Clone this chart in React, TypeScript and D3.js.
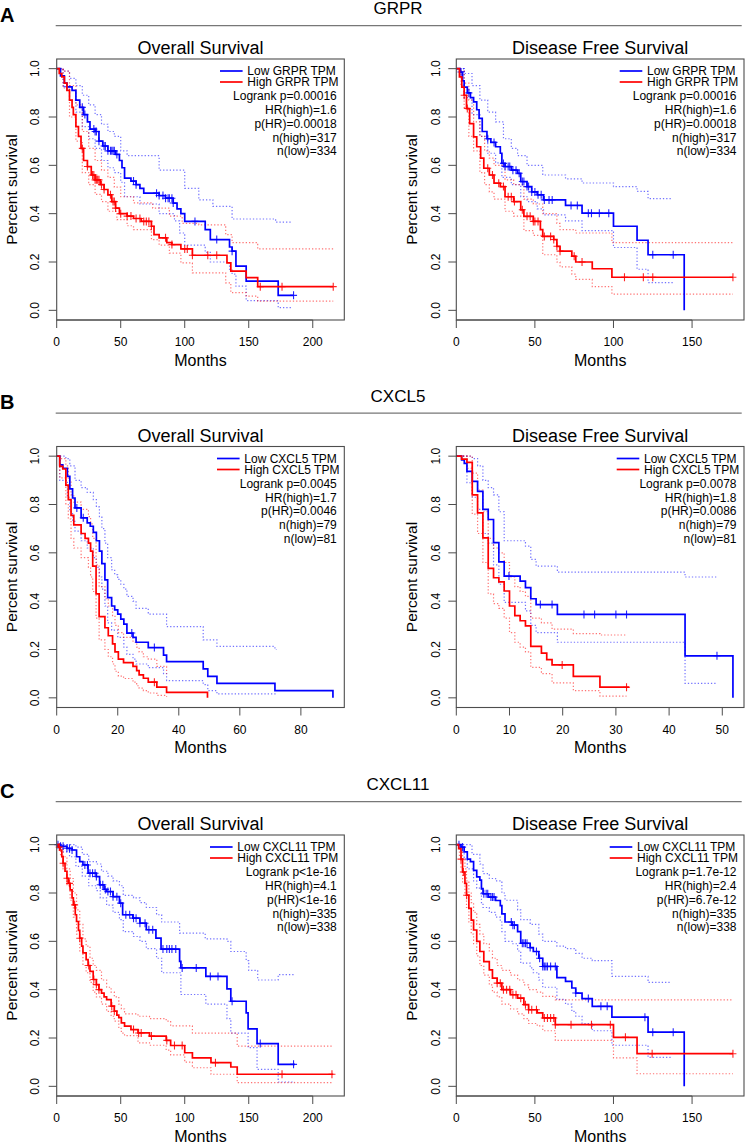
import React from "react";
import * as d3 from "d3";

type Pt = [number, number];

// ---------- Headers ----------
const panelLetters = ["A", "B", "C"];
const geneNames = ["GRPR", "CXCL5", "CXCL11"];
const plotTitles = ["Overall Survival", "Disease Free Survival"];
const yTicks = [0, 0.2, 0.4, 0.6, 0.8, 1.0];

// ---------- GRPR Overall Survival ----------
const grprOsLow: Pt[] = [[0,1],[3,0.97],[6,0.94],[8,0.925],[12,0.91],[15,0.87],[18,0.84],[21,0.81],[24,0.78],[26,0.75],[30,0.74],[33,0.70],[36,0.68],[40,0.66],[46,0.645],[49,0.62],[51,0.59],[53,0.547],[58,0.535],[62,0.52],[65,0.505],[68,0.485],[80,0.475],[85,0.464],[91,0.444],[94,0.42],[97,0.40],[100,0.368],[116,0.334],[120,0.293],[135,0.262],[137,0.245],[140,0.183],[148,0.121],[173,0.062],[185,0.062]];
const grprOsLowUp: Pt[] = [[0,1],[5,0.99],[10,0.96],[15,0.93],[20,0.89],[25,0.85],[30,0.81],[35,0.77],[40,0.74],[45,0.72],[50,0.66],[55,0.64],[80,0.58],[100,0.505],[111,0.457],[122,0.43],[137,0.378],[171,0.365],[184,0.365]];
const grprOsLowLo: Pt[] = [[0,1],[5,0.93],[10,0.87],[15,0.82],[20,0.76],[25,0.71],[30,0.67],[35,0.62],[40,0.59],[45,0.57],[50,0.53],[53,0.47],[65,0.44],[80,0.40],[92,0.37],[96,0.32],[100,0.27],[116,0.24],[120,0.20],[135,0.17],[137,0.15],[140,0.10],[148,0.04],[173,0.011],[184,0.011]];
const grprOsLowCens = [8,20,22,29,30,31,33,37,38,40,42,43,44,45,47,60,62,78,80,83,85,87,88,90,91,108,125,137,185];
const grprOsHigh: Pt[] = [[0,1],[2,0.98],[4,0.966],[6,0.94],[8,0.91],[10,0.87],[12,0.84],[13,0.81],[15,0.76],[17,0.72],[19,0.67],[21,0.62],[24,0.595],[27,0.56],[30,0.54],[34,0.52],[37,0.50],[40,0.478],[43,0.45],[46,0.423],[49,0.40],[55,0.39],[60,0.38],[66,0.368],[74,0.348],[76,0.313],[80,0.30],[86,0.28],[90,0.272],[97,0.254],[106,0.228],[133,0.196],[136,0.162],[148,0.135],[157,0.098],[216,0.098]];
const grprOsHighUp: Pt[] = [[0,1],[5,0.99],[10,0.93],[15,0.85],[20,0.74],[25,0.67],[30,0.62],[35,0.58],[40,0.55],[45,0.51],[50,0.47],[60,0.445],[75,0.423],[88,0.39],[98,0.36],[111,0.354],[132,0.313],[137,0.28],[157,0.254],[216,0.254]];
const grprOsHighLo: Pt[] = [[0,1],[5,0.92],[10,0.80],[15,0.70],[20,0.57],[25,0.52],[30,0.48],[35,0.45],[40,0.41],[47,0.375],[55,0.35],[60,0.334],[74,0.293],[80,0.27],[88,0.237],[97,0.196],[106,0.155],[132,0.114],[136,0.073],[148,0.059],[157,0.038],[216,0.038]];
const grprOsHighCens = [20,24,28,29,30,31,32,33,35,37,42,44,45,46,50,55,58,62,65,68,70,72,74,85,90,100,102,106,118,125,159,176,216];

// ---------- GRPR Disease Free Survival ----------
const grprDfsLow: Pt[] = [[0,1],[2.5,0.986],[4,0.95],[5,0.924],[7,0.90],[9,0.88],[11,0.863],[13,0.83],[14.5,0.794],[16.5,0.74],[19.5,0.71],[22,0.695],[25,0.677],[28,0.65],[29,0.608],[31,0.595],[35,0.58],[39,0.567],[41,0.533],[45,0.512],[48,0.49],[51.5,0.478],[55.5,0.457],[69.5,0.434],[80,0.402],[100,0.348],[115,0.29],[122,0.23],[145,0]];
const grprDfsLowUp: Pt[] = [[0,1],[5,0.98],[10,0.93],[15,0.87],[20,0.82],[25,0.78],[30,0.71],[35,0.67],[39,0.64],[45,0.60],[55,0.56],[69.5,0.544],[80,0.527],[100,0.512],[115,0.492],[122,0.462],[137,0.462]];
const grprDfsLowLo: Pt[] = [[0,1],[5,0.88],[10,0.81],[15,0.72],[20,0.65],[25,0.61],[29,0.55],[35,0.52],[41,0.47],[45,0.45],[51.5,0.42],[55.5,0.395],[69.5,0.37],[80,0.33],[100,0.26],[115,0.17],[122,0.115],[138,0.115]];
const grprDfsLowCens = [3,8,20,24,30,31,33,34,36,38,40,42,43,45,46,48,50,52,54,56,59,61,73,77,84,86,91,97,125,138];
const grprDfsHigh: Pt[] = [[0,1],[2,0.966],[3.5,0.924],[5,0.89],[6.5,0.835],[8.5,0.773],[11,0.718],[13,0.677],[15.5,0.63],[17.5,0.588],[21,0.56],[24,0.526],[28,0.512],[31,0.47],[36.5,0.45],[41,0.416],[43,0.389],[49,0.368],[53.5,0.334],[55,0.306],[62,0.293],[64,0.265],[66,0.245],[73.5,0.224],[76,0.20],[86.5,0.172],[99,0.137],[176,0.137]];
const grprDfsHighUp: Pt[] = [[0,1],[3,0.99],[5,0.94],[8,0.87],[11,0.78],[15,0.72],[18,0.66],[21,0.63],[24,0.60],[31,0.54],[36.5,0.52],[43,0.46],[49,0.44],[55,0.40],[64,0.36],[66,0.334],[76,0.32],[99,0.28],[176,0.28]];
const grprDfsHighLo: Pt[] = [[0,1],[3,0.93],[5,0.84],[8,0.72],[11,0.66],[15,0.57],[18,0.52],[21,0.49],[24,0.46],[31,0.41],[36.5,0.39],[43,0.33],[49,0.31],[55,0.23],[64,0.20],[66,0.18],[73.5,0.15],[76,0.128],[86.5,0.098],[99,0.067],[176,0.067]];
const grprDfsHighCens = [5,7,20,23,27,30,33,35,37,42,45,47,49,50,52,56,60,62,64,66,75,80,107,119,125,176];

// ---------- CXCL5 Overall Survival ----------
const cxcl5OsLow: Pt[] = [[0,1],[1,0.964],[2,0.95],[3.5,0.916],[4.3,0.865],[5.2,0.827],[6,0.786],[8,0.745],[10,0.724],[11,0.71],[12,0.685],[13,0.65],[14,0.607],[14.8,0.555],[15.8,0.488],[16.7,0.415],[18,0.38],[19,0.364],[20,0.346],[21,0.326],[22,0.305],[23,0.268],[25,0.25],[26,0.23],[30,0.208],[35,0.177],[36,0.15],[48,0.12],[49.5,0.089],[52.5,0.06],[71.5,0.03],[90.5,0]];
const cxcl5OsLowUp: Pt[] = [[0,1],[3,0.99],[4.3,0.96],[6,0.90],[8,0.87],[10,0.85],[12,0.82],[13,0.79],[14,0.75],[14.8,0.70],[15.8,0.64],[16.7,0.58],[18,0.53],[19,0.51],[20,0.49],[21,0.47],[22,0.45],[23,0.42],[25,0.40],[26,0.37],[30,0.346],[36,0.295],[48,0.24],[52.5,0.213],[71.5,0.20],[72,0.20]];
const cxcl5OsLowLo: Pt[] = [[0,1],[1,0.90],[3.5,0.83],[4.3,0.77],[5.2,0.73],[6,0.69],[8,0.65],[10,0.62],[12,0.58],[13,0.54],[14,0.50],[14.8,0.45],[15.8,0.38],[16.7,0.31],[18,0.28],[20,0.25],[22,0.21],[23,0.18],[25,0.16],[26,0.14],[30,0.125],[35,0.10],[36,0.071],[48,0.055],[49.5,0.03],[52.5,0.016],[72,0.016]];
const cxcl5OsLowCens = [6.6,8.7,24.6,32];
const cxcl5OsHigh: Pt[] = [[0,1],[1,0.958],[2,0.947],[3,0.88],[3.8,0.82],[4.7,0.755],[5.6,0.716],[8,0.68],[9.3,0.66],[10.4,0.64],[11.1,0.607],[11.8,0.545],[12.9,0.43],[13.9,0.336],[15.8,0.29],[16.9,0.257],[18.3,0.223],[19.1,0.19],[20.2,0.16],[21.9,0.146],[25,0.13],[26.2,0.113],[27,0.095],[28.4,0.081],[30,0.065],[32.8,0.044],[36,0.023],[49.4,0]];
const cxcl5OsHighUp: Pt[] = [[0,1],[1,0.99],[3,0.96],[3.8,0.90],[4.7,0.84],[5.6,0.81],[8,0.78],[10.4,0.75],[11.1,0.72],[11.8,0.66],[12.9,0.55],[13.9,0.46],[15.8,0.41],[16.9,0.38],[18.3,0.34],[19.1,0.30],[20.2,0.27],[21.9,0.25],[25,0.23],[26.2,0.21],[27,0.19],[28.4,0.17],[30,0.16],[32.8,0.13],[36,0.10]];
const cxcl5OsHighLo: Pt[] = [[0,1],[1,0.91],[3,0.80],[3.8,0.74],[4.7,0.66],[5.6,0.62],[8,0.58],[10.4,0.54],[11.1,0.50],[11.8,0.44],[12.9,0.33],[13.9,0.24],[15.8,0.20],[16.9,0.17],[18.3,0.14],[19.1,0.11],[20.2,0.09],[21.9,0.08],[25,0.065],[26.2,0.05],[27,0.04],[28.4,0.03],[30,0.02],[32.8,0.01],[36,0.005]];
const cxcl5OsHighCens = [32];

// ---------- CXCL5 Disease Free Survival ----------
const cxcl5DfsLow: Pt[] = [[0,1],[1,0.985],[1.5,0.97],[2,0.937],[3,0.896],[4,0.854],[5,0.78],[6,0.738],[7,0.642],[8,0.563],[9,0.504],[12,0.483],[13,0.456],[14,0.41],[15,0.386],[19,0.345],[43,0.174],[52,0]];
const cxcl5DfsLowUp: Pt[] = [[0,1],[3,0.99],[4,0.96],[5,0.90],[6,0.87],[7,0.84],[8,0.77],[9,0.65],[12,0.65],[13,0.628],[14,0.573],[15,0.545],[19,0.52],[43,0.50],[49,0.50]];
const cxcl5DfsLowLo: Pt[] = [[0,1],[2,0.89],[3,0.83],[4,0.78],[5,0.68],[6,0.64],[7,0.55],[8,0.47],[9,0.395],[12,0.395],[13,0.36],[14,0.30],[15,0.27],[19,0.23],[43,0.06],[49,0.06]];
const cxcl5DfsLowCens = [9.9,15.8,18,24,26,30,32,49];
const cxcl5DfsHigh: Pt[] = [[0,1],[1,0.988],[2,0.974],[3,0.84],[4,0.765],[5,0.662],[6,0.536],[7,0.497],[8,0.48],[9,0.442],[10,0.38],[11,0.34],[12,0.319],[13,0.298],[14,0.213],[16,0.185],[17,0.158],[18,0.136],[22,0.089],[27,0.044],[32.5,0.044]];
const cxcl5DfsHighUp: Pt[] = [[0,1],[2,1],[3,0.93],[4,0.86],[5,0.77],[6,0.66],[7,0.62],[8,0.60],[9,0.56],[10,0.50],[11,0.46],[12,0.44],[13,0.42],[14,0.33],[16,0.31],[18,0.284],[22,0.266],[27,0.26],[32,0.26]];
const cxcl5DfsHighLo: Pt[] = [[0,1],[2,0.95],[3,0.76],[4,0.68],[5,0.56],[6,0.43],[7,0.39],[8,0.37],[9,0.33],[10,0.27],[11,0.23],[12,0.21],[13,0.19],[14,0.126],[16,0.10],[18,0.062],[22,0.03],[27,0.007],[32,0.007]];
const cxcl5DfsHighCens = [19.9,32];

// ---------- CXCL11 Overall Survival ----------
const cxcl11OsLow: Pt[] = [[0,1],[3,0.993],[8,0.985],[12,0.978],[15.5,0.95],[18,0.93],[20.5,0.916],[24.5,0.882],[31,0.868],[33.5,0.834],[37,0.815],[39,0.806],[44,0.785],[49,0.758],[51.5,0.71],[59.5,0.696],[65,0.675],[70,0.648],[77.5,0.613],[81.5,0.568],[96,0.517],[97,0.49],[116.5,0.455],[133,0.403],[136,0.352],[148,0.304],[149.5,0.238],[156.5,0.177],[173,0.091],[186,0.091]];
const cxcl11OsLowUp: Pt[] = [[0,1],[10,1],[15,0.99],[20,0.96],[25,0.93],[31,0.92],[35,0.89],[40,0.87],[44,0.85],[49,0.83],[52,0.79],[60,0.78],[65,0.76],[70,0.74],[78,0.71],[82,0.68],[96,0.634],[116,0.61],[133,0.60],[136,0.558],[148,0.52],[150,0.48],[157,0.44],[173,0.462],[186,0.462]];
const cxcl11OsLowLo: Pt[] = [[0,1],[5,0.97],[10,0.95],[15,0.91],[20,0.87],[25,0.83],[31,0.81],[34,0.78],[39,0.75],[44,0.72],[49,0.69],[52,0.64],[60,0.62],[65,0.60],[70,0.57],[78,0.53],[82,0.47],[97,0.38],[116.5,0.34],[133,0.28],[136,0.22],[149.5,0.16],[156.5,0.07],[173,0.018],[186,0.018]];
const cxcl11OsLowCens = [1,3,5,8,10,12,22,24,26,28,30,31,34,36,38,40,42,44,47,50,54,57,60,62,65,69,72,75,83,86,88,90,93,98,109,120,126,137,159,185];
const cxcl11OsHigh: Pt[] = [[0,1],[1.5,0.99],[2.5,0.978],[4,0.95],[5,0.923],[6.5,0.89],[8,0.861],[9,0.84],[10.5,0.813],[12,0.78],[13,0.751],[14.5,0.71],[15.5,0.682],[17,0.645],[18,0.613],[19.5,0.58],[20.5,0.552],[23,0.524],[24.5,0.50],[26,0.476],[28.5,0.442],[31,0.421],[33,0.40],[35,0.386],[37,0.37],[39,0.359],[42.5,0.332],[45,0.311],[47,0.295],[48.5,0.284],[50.5,0.263],[53,0.249],[58,0.235],[63.5,0.221],[72.5,0.208],[85.5,0.19],[89,0.169],[100,0.139],[106,0.118],[120.5,0.098],[136,0.08],[141,0.05],[216,0.05]];
const cxcl11OsHighUp: Pt[] = [[0,1],[3,0.99],[5,0.95],[8,0.90],[10.5,0.86],[13,0.80],[15.5,0.73],[18,0.67],[20.5,0.61],[23,0.58],[26,0.53],[28.5,0.50],[31,0.48],[35,0.44],[39,0.41],[42.5,0.39],[45,0.37],[48.5,0.34],[50.5,0.32],[53,0.30],[63.5,0.29],[72.5,0.28],[85.5,0.27],[89,0.25],[106,0.22],[141,0.166],[216,0.166]];
const cxcl11OsHighLo: Pt[] = [[0,1],[3,0.95],[5,0.90],[8,0.83],[10.5,0.77],[13,0.70],[15.5,0.63],[18,0.56],[20.5,0.50],[23,0.47],[26,0.43],[28.5,0.39],[31,0.37],[35,0.34],[39,0.31],[42.5,0.29],[45,0.27],[48.5,0.24],[50.5,0.22],[53,0.21],[63.5,0.18],[72.5,0.17],[85.5,0.15],[89,0.13],[100,0.10],[106,0.077],[120.5,0.05],[141,0.015],[216,0.015]];
const cxcl11OsHighCens = [2,5,8,10,14,18,25,29,31,33,43,45,60,64,66,74,86,92,98,124,176,215];

// ---------- CXCL11 Disease Free Survival ----------
const cxcl11DfsLow: Pt[] = [[0,1],[3,0.99],[5,0.97],[7,0.94],[9,0.93],[11,0.894],[13,0.867],[15,0.853],[16,0.818],[17,0.797],[20.5,0.783],[25,0.769],[28,0.748],[29,0.714],[31,0.68],[35.5,0.667],[39,0.64],[41,0.592],[47,0.574],[49,0.558],[52.5,0.53],[55,0.496],[64,0.45],[69.5,0.434],[73.5,0.407],[76,0.386],[80,0.363],[86.5,0.331],[99,0.286],[122,0.224],[145,0]];
const cxcl11DfsLowUp: Pt[] = [[0,1],[5,1],[10,0.96],[15,0.92],[17,0.88],[21,0.86],[25,0.85],[29,0.80],[31,0.77],[39,0.73],[41,0.69],[47,0.67],[52.5,0.63],[55,0.60],[64,0.58],[69.5,0.57],[76,0.55],[80,0.53],[86.5,0.52],[99,0.455],[122,0.43],[137,0.43]];
const cxcl11DfsLowLo: Pt[] = [[0,1],[3,0.97],[5,0.94],[7,0.90],[11,0.85],[13,0.82],[16,0.76],[17,0.74],[21,0.72],[25,0.70],[28,0.68],[29,0.64],[31,0.60],[36,0.59],[39,0.56],[41,0.51],[47,0.49],[49,0.47],[52.5,0.44],[55,0.41],[64,0.36],[69.5,0.34],[73.5,0.31],[76,0.29],[80,0.26],[86.5,0.23],[99,0.17],[122,0.12],[137,0.12]];
const cxcl11DfsLowCens = [1.7,4,17.5,19,20,22,23,24,35,36,37,42,43,44,45,47,51,53,55,56,57,58,60,63,76,84,92,96,120,125,138];
const cxcl11DfsHigh: Pt[] = [[0,1],[1.5,0.984],[3,0.94],[4,0.887],[5.5,0.84],[6.5,0.791],[8,0.736],[9.5,0.688],[11,0.647],[13,0.60],[15,0.558],[17.5,0.516],[21,0.482],[23,0.448],[26,0.427],[29,0.40],[34.5,0.379],[39,0.365],[43,0.338],[46,0.317],[51.5,0.304],[55,0.283],[63,0.255],[100,0.203],[115,0.135],[176,0.135]];
const cxcl11DfsHighUp: Pt[] = [[0,1],[3,0.99],[4,0.94],[5.5,0.90],[6.5,0.85],[8,0.80],[9.5,0.76],[11,0.72],[13,0.67],[15,0.63],[17.5,0.59],[21,0.56],[23,0.53],[26,0.50],[29,0.48],[34.5,0.46],[39,0.44],[43,0.42],[46,0.40],[51.5,0.39],[55,0.372],[63,0.358],[176,0.358]];
const cxcl11DfsHighLo: Pt[] = [[0,1],[2,0.95],[3,0.90],[4,0.84],[5.5,0.79],[6.5,0.74],[8,0.68],[9.5,0.63],[11,0.59],[13,0.54],[15,0.50],[17.5,0.46],[21,0.42],[23,0.39],[26,0.37],[29,0.34],[34.5,0.32],[39,0.30],[43,0.28],[46,0.26],[51.5,0.25],[55,0.23],[63,0.19],[100,0.118],[115,0.052],[176,0.052]];
const cxcl11DfsHighCens = [3,4.5,6.6,26,28,30,32,34,36,38,41,44,46,48,51,56,58,60,62,63,73,86,98,107.6,124.6,176];

// ---------- Statistics text ----------
const statsGrprOs = ["Logrank p=0.00016", "HR(high)=1.6", "p(HR)=0.00018", "n(high)=317", "n(low)=334"];
const statsGrprDfs = ["Logrank p=0.00016", "HR(high)=1.6", "p(HR)=0.00018", "n(high)=317", "n(low)=334"];
const statsCxcl5Os = ["Logrank p=0.0045", "HR(high)=1.7", "p(HR)=0.0046", "n(high)=79", "n(low)=81"];
const statsCxcl5Dfs = ["Logrank p=0.0078", "HR(high)=1.8", "p(HR)=0.0086", "n(high)=79", "n(low)=81"];
const statsCxcl11Os = ["Logrank p<1e-16", "HR(high)=4.1", "p(HR)<1e-16", "n(high)=335", "n(low)=338"];
const statsCxcl11Dfs = ["Logrank p=1.7e-12", "HR(high)=2.4", "p(HR)=6.7e-12", "n(high)=335", "n(low)=338"];

const xTicksA = [0, 50, 100, 150, 200];
const xTicksADfs = [0, 50, 100, 150];
const xTicksBOs = [0, 20, 40, 60, 80];
const xTicksBDfs = [0, 10, 20, 30, 40, 50];

// ---------- layout ----------
const FONT = "'Liberation Sans', Arial, Helvetica, sans-serif";
const BLUE = "#0000ff";
const RED = "#ff0000";
const AXIS = "#4d4d4d";

interface Curve { main: Pt[]; up: Pt[]; lo: Pt[]; cens: number[] }
interface PlotCfg { title: string; xmax: number; ticks: number[]; low: Curve; high: Curve; stats: string[] }

const rows = [
  { letter: panelLetters[0], gene: geneNames[0], oy: 0, legendOff: 97, plots: [
    { title: plotTitles[0], xmax: 216, ticks: xTicksA, low: { main: grprOsLow, up: grprOsLowUp, lo: grprOsLowLo, cens: grprOsLowCens }, high: { main: grprOsHigh, up: grprOsHighUp, lo: grprOsHighLo, cens: grprOsHighCens }, stats: statsGrprOs },
    { title: plotTitles[1], xmax: 176, ticks: xTicksADfs, low: { main: grprDfsLow, up: grprDfsLowUp, lo: grprDfsLowLo, cens: grprDfsLowCens }, high: { main: grprDfsHigh, up: grprDfsHighUp, lo: grprDfsHighLo, cens: grprDfsHighCens }, stats: statsGrprDfs },
  ] },
  { letter: panelLetters[1], gene: geneNames[1], oy: 387.5, legendOff: 100, plots: [
    { title: plotTitles[0], xmax: 90.6, ticks: xTicksBOs, low: { main: cxcl5OsLow, up: cxcl5OsLowUp, lo: cxcl5OsLowLo, cens: cxcl5OsLowCens }, high: { main: cxcl5OsHigh, up: cxcl5OsHighUp, lo: cxcl5OsHighLo, cens: cxcl5OsHighCens }, stats: statsCxcl5Os },
    { title: plotTitles[1], xmax: 52, ticks: xTicksBDfs, low: { main: cxcl5DfsLow, up: cxcl5DfsLowUp, lo: cxcl5DfsLowLo, cens: cxcl5DfsLowCens }, high: { main: cxcl5DfsHigh, up: cxcl5DfsHighUp, lo: cxcl5DfsHighLo, cens: cxcl5DfsHighCens }, stats: statsCxcl5Dfs },
  ] },
  { letter: panelLetters[2], gene: geneNames[2], oy: 776, legendOff: 107, plots: [
    { title: plotTitles[0], xmax: 216, ticks: xTicksA, low: { main: cxcl11OsLow, up: cxcl11OsLowUp, lo: cxcl11OsLowLo, cens: cxcl11OsLowCens }, high: { main: cxcl11OsHigh, up: cxcl11OsHighUp, lo: cxcl11OsHighLo, cens: cxcl11OsHighCens }, stats: statsCxcl11Os },
    { title: plotTitles[1], xmax: 176, ticks: xTicksADfs, low: { main: cxcl11DfsLow, up: cxcl11DfsLowUp, lo: cxcl11DfsLowLo, cens: cxcl11DfsLowCens }, high: { main: cxcl11DfsHigh, up: cxcl11DfsHighUp, lo: cxcl11DfsHighLo, cens: cxcl11DfsHighCens }, stats: statsCxcl11Dfs },
  ] },
];

const cols = [
  { x0: 56.7, x1: 344.3, yLab: 35, yTitle: 12 },
  { x0: 456.3, x1: 744, yLab: 435.3, yTitle: 411.3 },
];

function survAt(curve: Pt[], t: number): number {
  let s = curve[0][1];
  for (const p of curve) { if (p[0] <= t) s = p[1]; else break; }
  return s;
}

function Plot({ cfg, col, oy, gene, legendOff }: { cfg: PlotCfg; col: typeof cols[0]; oy: number; gene: string; legendOff: number }) {
  const top = 59 + oy;
  const bottom = 320 + oy;
  const xs = d3.scaleLinear().domain([0, cfg.xmax * 1.04]).range([col.x0, col.x1]);
  const ys = d3.scaleLinear().domain([-0.04, 1.04]).range([bottom, top]);
  const line = d3.line<Pt>().x(d => xs(d[0])).y(d => ys(d[1])).curve(d3.curveStepAfter);
  const cx = (col.x0 + col.x1) / 2;
  const textX = col.x1 - legendOff;
  const statX = col.x1 - 7.5;
  const groups = [
    { c: cfg.low, color: BLUE, faint: "rgba(0,0,255,0.55)" },
    { c: cfg.high, color: RED, faint: "rgba(255,0,0,0.55)" },
  ];
  return (
    <g>
      <text x={cx} y={top - 5} textAnchor="middle" fontSize={18} fontFamily={FONT}>{cfg.title}</text>
      {groups.map((g, i) => (
        <g key={"ci" + i}>
          <path d={line(g.c.up) || ""} fill="none" stroke={g.faint} strokeWidth={1.2} strokeDasharray="1.3 2" />
          <path d={line(g.c.lo) || ""} fill="none" stroke={g.faint} strokeWidth={1.2} strokeDasharray="1.3 2" />
        </g>
      ))}
      {groups.map((g, i) => (
        <g key={"m" + i}>
          <path d={line(g.c.main) || ""} fill="none" stroke={g.color} strokeWidth={1.7} />
          {g.c.cens.map((t, j) => {
            const px = xs(t), py = ys(survAt(g.c.main, t));
            return <path key={j} d={`M${px},${py - 4}V${py + 4}M${px - 3.5},${py}H${px + 3.5}`} stroke={g.color} strokeWidth={1.1} opacity={0.85} />;
          })}
        </g>
      ))}
      <rect x={col.x0} y={top} width={col.x1 - col.x0} height={bottom - top} fill="none" stroke={AXIS} strokeWidth={1.1} />
      {yTicks.map(v => (
        <g key={"y" + v}>
          <line x1={col.x0 - 8} x2={col.x0} y1={ys(v)} y2={ys(v)} stroke={AXIS} strokeWidth={1} />
          <text transform={`translate(${col.yLab},${ys(v)}) rotate(-90)`} textAnchor="middle" dy="0.35em" fontSize={12} fontFamily={FONT}>{v.toFixed(1)}</text>
        </g>
      ))}
      {cfg.ticks.map(v => (
        <g key={"x" + v}>
          <line x1={xs(v)} x2={xs(v)} y1={bottom} y2={bottom + 8} stroke={AXIS} strokeWidth={1} />
          <text x={xs(v)} y={bottom + 26} textAnchor="middle" fontSize={12} fontFamily={FONT}>{v}</text>
        </g>
      ))}
      <line x1={xs(cfg.ticks[0])} x2={xs(cfg.ticks[cfg.ticks.length - 1])} y1={bottom} y2={bottom} stroke={AXIS} strokeWidth={1} />
      <text x={cx} y={bottom + 45.5} textAnchor="middle" fontSize={16} fontFamily={FONT}>Months</text>
      <text transform={`translate(${col.yTitle},${(top + bottom) / 2}) rotate(-90)`} textAnchor="middle" dy="0.35em" fontSize={15.5} fontFamily={FONT}>Percent survival</text>
      {/* legend */}
      <line x1={textX - 27.3} x2={textX - 4.7} y1={top + 12} y2={top + 12} stroke={BLUE} strokeWidth={1.7} />
      <line x1={textX - 27.3} x2={textX - 4.7} y1={top + 23} y2={top + 23} stroke={RED} strokeWidth={1.7} />
      <text x={textX} y={top + 16.3} fontSize={12} fontFamily={FONT}>{`Low ${gene} TPM`}</text>
      <text x={textX} y={top + 27.3} fontSize={12} fontFamily={FONT}>{`High ${gene} TPM`}</text>
      {cfg.stats.map((s, i) => (
        <text key={s + i} x={statX} y={top + 41.3 + i * 13.75} textAnchor="end" fontSize={12} fontFamily={FONT}>{s}</text>
      ))}
    </g>
  );
}

export default function App() {
  return (
    <svg width={748} height={1144} viewBox="0 0 748 1144" style={{ position: "absolute", left: 0, top: 0, background: "#fff" }}>
      <rect x={0} y={0} width={748} height={1144} fill="#fff" />
      {rows.map(r => (
        <g key={r.letter}>
          <text x={0} y={21.7 + r.oy} fontSize={20} fontWeight="bold" fontFamily={FONT}>{r.letter}</text>
          <text x={398} y={14 + r.oy} textAnchor="middle" fontSize={17} fontFamily={FONT}>{r.gene}</text>
          <line x1={55.7} x2={741.7} y1={25.7 + r.oy} y2={25.7 + r.oy} stroke="#777" strokeWidth={1.2} />
          {r.plots.map((p, i) => (
            <Plot key={i} cfg={p as PlotCfg} col={cols[i]} oy={r.oy} gene={r.gene} legendOff={r.legendOff} />
          ))}
        </g>
      ))}
    </svg>
  );
}
